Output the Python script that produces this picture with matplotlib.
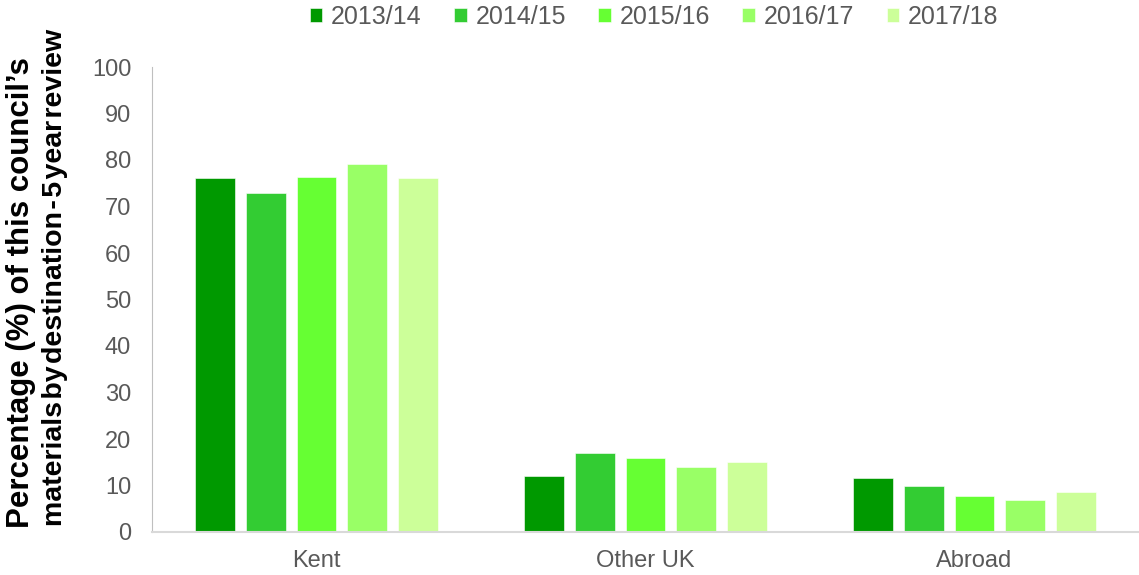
import matplotlib
matplotlib.use("Agg")
import matplotlib.pyplot as plt
import numpy as np

categories = ["Kent", "Other UK", "Abroad"]
series = ["2013/14", "2014/15", "2015/16", "2016/17", "2017/18"]
values = {
    "2013/14": [76.1, 12.1, 11.6],
    "2014/15": [72.9, 16.9, 10.0],
    "2015/16": [76.3, 15.9, 7.7],
    "2016/17": [79.1, 14.0, 6.8],
    "2017/18": [76.1, 15.1, 8.6],
}
colors = ["#009900", "#33CC33", "#66FF33", "#99FF66", "#CCFF99"]
ylabel_line1 = "Percentage (%) of this council\u2019s"
ylabel_line2 = "materials\u200aby\u200adestination\u200a-\u200a5\u200ayear\u200areview"

plt.rcParams['font.family'] = ['Liberation Sans', 'DejaVu Sans']

W, H = 1139, 575
fig = plt.figure(figsize=(W / 100, H / 100), dpi=100)
ax = fig.add_axes([152 / W, 1 - 532 / H, (W - 152) / W, (532 - 67) / H])

x = np.arange(len(categories))
step = 0.1545
width = 0.121
for i, s in enumerate(series):
    ax.bar(x + (i - 2) * step, values[s], width, color=colors[i], label=s,
           edgecolor="white", linewidth=0.4)

ax.set_xlim(-0.5, len(categories) - 0.5)
ax.set_ylim(0, 100)
ax.set_yticks(np.arange(0, 101, 10))
ax.set_xticks(x)
ax.set_xticklabels(categories)
ax.tick_params(axis='both', length=0, labelsize=17, colors="#595959")
ax.tick_params(axis='x', pad=13)
ax.tick_params(axis='y', pad=15)
for sp in ["top", "right"]:
    ax.spines[sp].set_visible(False)
ax.spines["left"].set_color("#bfbfbf")
ax.spines["bottom"].set_color("#d9d9d9")
ax.spines["bottom"].set_linewidth(1.5)

fig.text(21 / W, 1 - 293 / H, ylabel_line1, rotation=90, ha="center", va="center",
         fontsize=22.5, fontweight="bold", color="black")
fig.text(55 / W, 1 - 277 / H, ylabel_line2, rotation=90, ha="center", va="center",
         fontsize=20.5, fontweight="bold", color="black")

leg = fig.legend(loc="center", bbox_to_anchor=(654 / W, 1 - 17 / H), ncol=5, frameon=False,
                 fontsize=18, handlelength=0.5, handleheight=0.5, handletextpad=0.35,
                 columnspacing=1.3, borderpad=0)
for t in leg.get_texts():
    t.set_color("#595959")

fig.savefig("out.png", dpi=100)
